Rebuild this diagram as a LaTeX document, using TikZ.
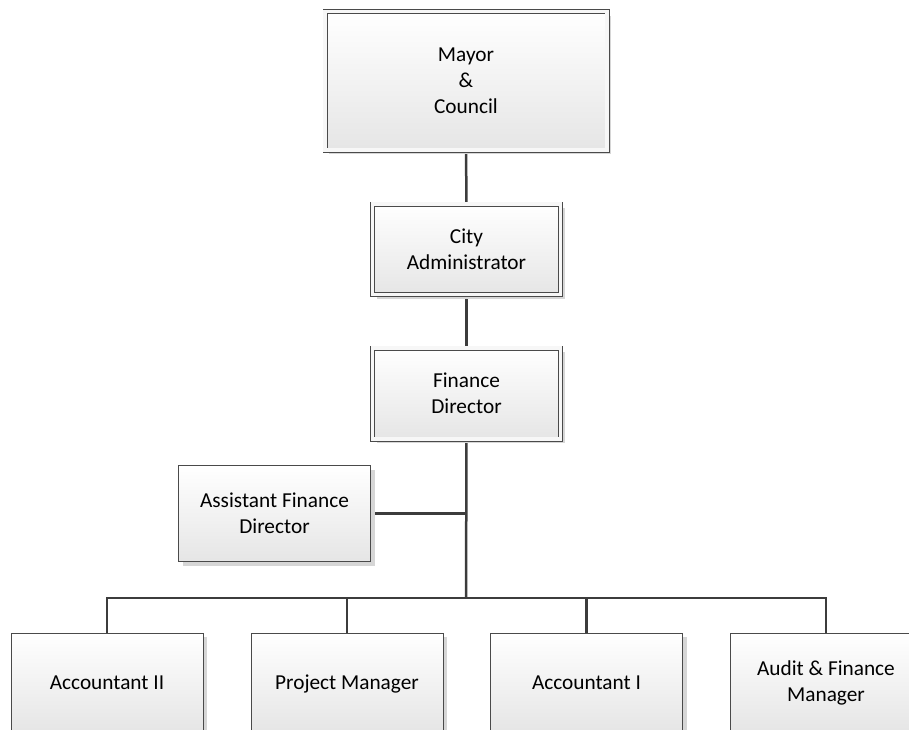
\documentclass[tikz,border=0pt]{standalone}
\usepackage{fontspec}
\setmainfont{Carlito}
\usetikzlibrary{shadows,backgrounds}

\definecolor{edge}{HTML}{4A4A4A}
\definecolor{wire}{HTML}{3C3C3C}
\definecolor{shade}{HTML}{D6D6D6}

\tikzset{
  box/.style={
    draw=edge, line width=0.9pt,
    top color=white, bottom color=black!10,
    align=center, inner sep=2pt,
    font=\fontsize{21.3}{26}\selectfont,
    drop shadow={shadow xshift=4pt, shadow yshift=-4pt, fill=shade, opacity=1}
  },
  dbox/.style={box, double=black!3, double distance=3.2pt},
  sbox/.style={box, minimum width=192pt, minimum height=98pt},
  oneline/.style={text height=15pt, text depth=1.3pt},
  wireline/.style={draw=wire, line width=2.5pt}
}

\begin{document}
\begin{tikzpicture}[x=1pt, y=-1pt]
\useasboundingbox (0,0) rectangle (909,729);
\clip (0,0) rectangle (909,729);

% leadership chain
\node[dbox, minimum width=282pt, minimum height=138.5pt] (mayor) at (466,80.75) {Mayor\\\&\\Council};
\node[dbox, minimum width=188pt, minimum height=90.5pt] (city) at (466.5,249.25) {City\\Administrator};
\node[dbox, minimum width=188pt, minimum height=91pt] (fin) at (466.5,393.5) {Finance\\Director};

% deputy
\node[sbox, minimum height=96pt] (asst) at (274.5,513.5) {Assistant Finance\\Director};

% staff row
\node[sbox, oneline, anchor=north] (acc2) at (107,633) {Accountant II};
\node[sbox, oneline, anchor=north] (pm)   at (347,633) {Project Manager};
\node[sbox, oneline, anchor=north] (acc1) at (586.5,633) {Accountant I};
\node[sbox, anchor=north] (aud)  at (826,633) {Audit \& Finance\\Manager};

\coordinate (bus) at (466,598);

\begin{scope}[on background layer]
  \draw[wireline] (mayor.south) -- (city.north);
  \draw[wireline] (city.south) -- (fin.north);
  \draw[wireline] (fin.south) -- (bus);
  \draw[wireline] (asst.east) -- (asst.east -| bus);
  \draw[wireline] (acc2.north) |- (bus) -| (aud.north);
  \draw[wireline] (pm.north) -- (pm.north |- bus);
  \draw[wireline] (acc1.north) -- (acc1.north |- bus);
\end{scope}
\end{tikzpicture}
\end{document}
